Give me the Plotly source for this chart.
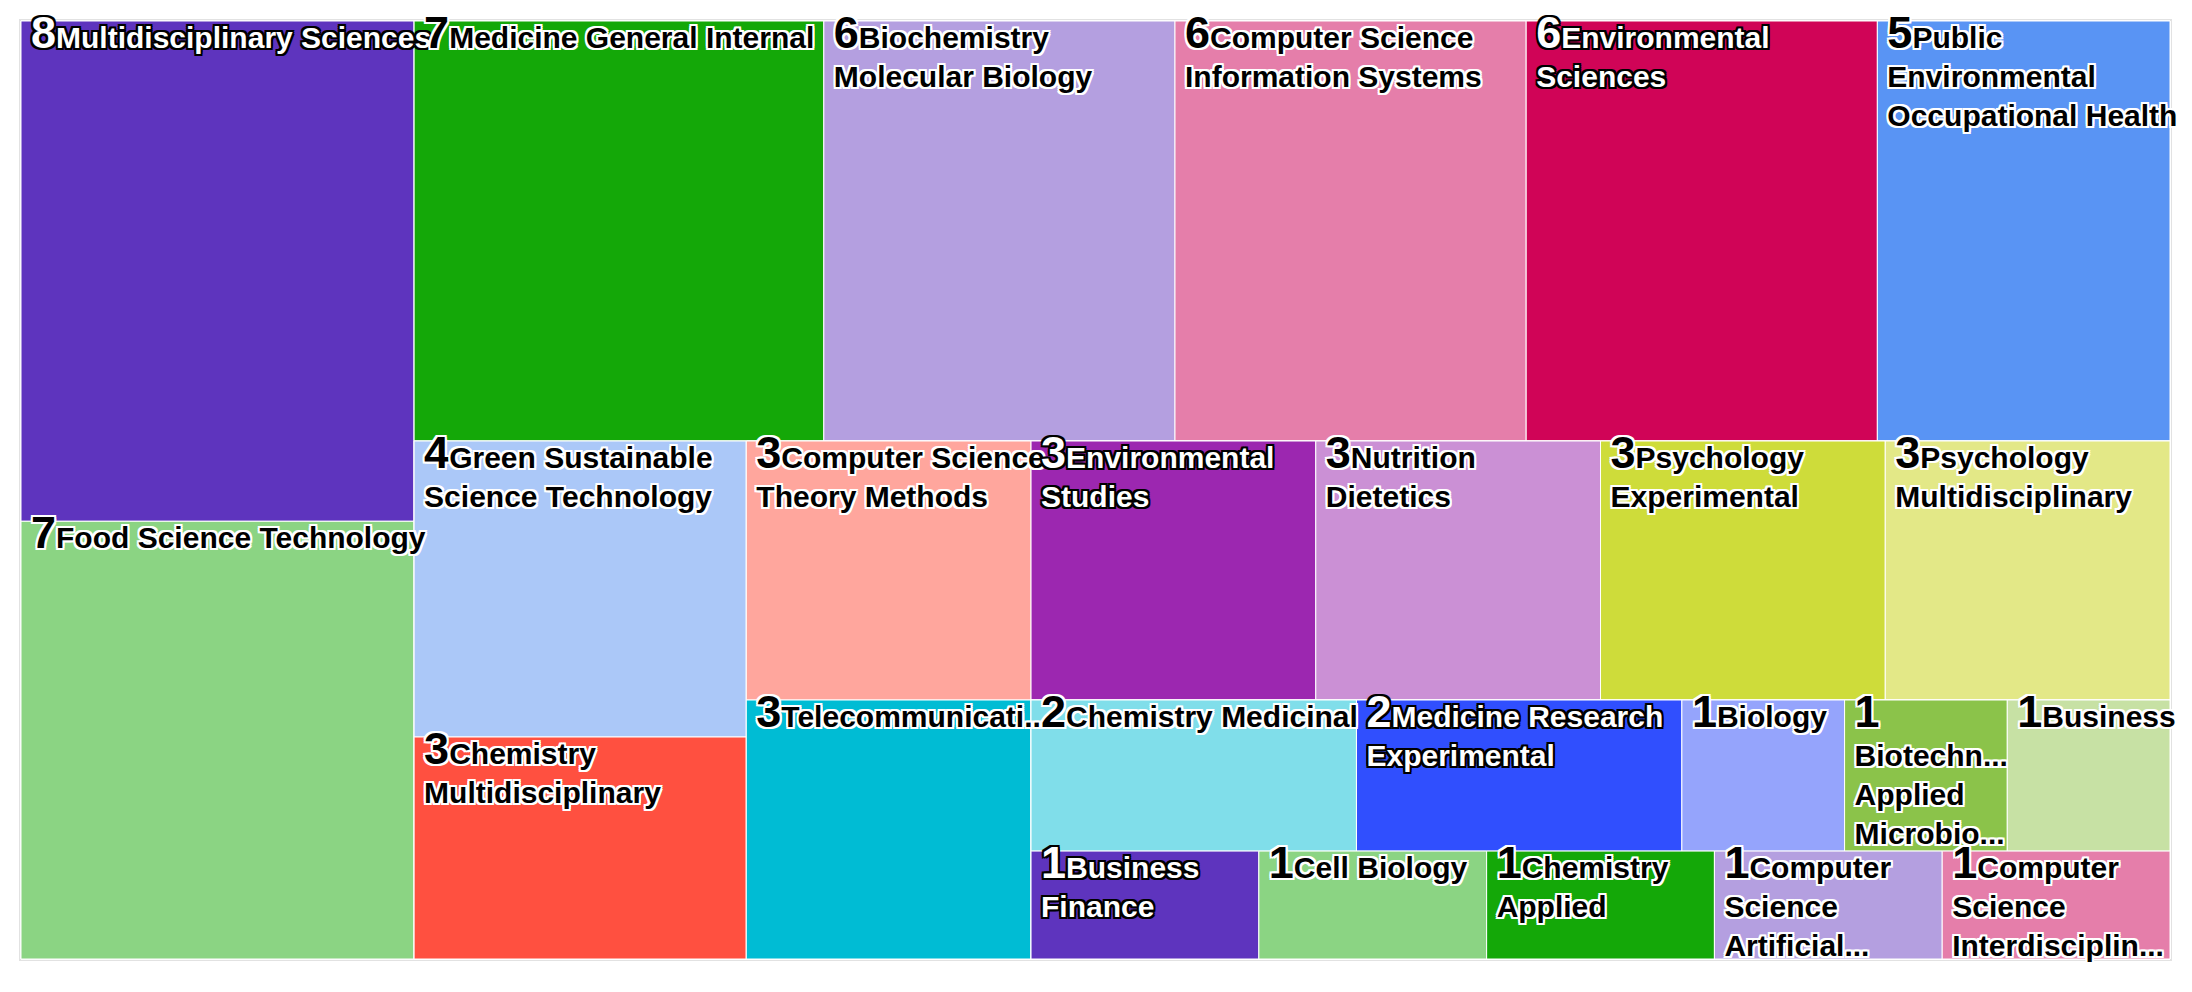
import plotly.graph_objects as go

# subject categories in tile order, with their paper counts
categories = [
    "Multidisciplinary Sciences",
    "Food Science Technology",
    "Medicine General Internal",
    "Biochemistry<br>Molecular Biology",
    "Computer Science<br>Information Systems",
    "Environmental<br>Sciences",
    "Public<br>Environmental<br>Occupational Health",
    "Green Sustainable<br>Science Technology",
    "Chemistry<br>Multidisciplinary",
    "Computer Science<br>Theory Methods",
    "Environmental<br>Studies",
    "Nutrition<br>Dietetics",
    "Psychology<br>Experimental",
    "Psychology<br>Multidisciplinary",
    "Telecommunicati...",
    "Chemistry Medicinal",
    "Medicine Research<br>Experimental",
    "Biology",
    "<br>Biotechn...<br>Applied<br>Microbio...",
    "Business",
    "Business<br>Finance",
    "Cell Biology",
    "Chemistry<br>Applied",
    "Computer<br>Science<br>Artificial...",
    "Computer<br>Science<br>Interdisciplin...",
]
counts = [8, 7, 7, 6, 6, 6, 5, 4, 3, 3, 3, 3, 3, 3, 3, 2, 2, 1, 1, 1, 1, 1, 1, 1, 1]

# squarified layout blocks, alternating horizontal / vertical splits (slice-dice)
blocks = ["all", "col1", "rest1", "row1", "rest2", "col2", "rest3", "row3", "rest4",
          "rest5", "row5a", "row5b"]
block_parents = ["", "all", "all", "rest1", "rest1", "rest2", "rest2", "rest3", "rest3",
                 "rest4", "rest5", "rest5"]
category_block = ["col1"] * 2 + ["row1"] * 5 + ["col2"] * 2 + ["row3"] * 5 + ["rest4"] \
    + ["row5a"] * 5 + ["row5b"] * 5

palette = [
    "#5E34BE", "#8BD483", "#14A808", "#B49FE0", "#E57EAA",
    "#D00457", "#5994F4", "#ABC8F8", "#FF5040", "#FFA69D",
    "#9C27B0", "#CB90D5", "#CEDC3A", "#E3E887", "#00BCD4",
    "#80DEEA", "#304FFE", "#95A4FC", "#8BC34A", "#C7E1A4",
]
colors = [palette[i % len(palette)] for i in range(len(categories))]


def luminance(hex_color):
    chans = [int(hex_color[k:k + 2], 16) / 255 for k in (1, 3, 5)]
    lin = [c / 12.92 if c <= 0.03928 else ((c + 0.055) / 1.055) ** 2.4 for c in chans]
    return 0.2126 * lin[0] + 0.7152 * lin[1] + 0.0722 * lin[2]


def outline(col, r=2):
    return ", ".join(f"{dx}px {dy}px 0 {col}" for dx in (-r, 0, r) for dy in (-r, 0, r)
                     if (dx, dy) != (0, 0))


# node list: blocks first, Telecom placed before rest5 inside rest4
ids, labels, parents, values, node_colors = [], [], [], [], []
tele = category_block.index("rest4")
for b, p in zip(blocks, block_parents):
    if b == "rest5":
        ids.append("leaf%d" % tele)
        labels.append(categories[tele])
        parents.append("rest4")
        values.append(counts[tele])
        node_colors.append(colors[tele])
    ids.append(b)
    labels.append(" ")
    parents.append(p)
    values.append(0)
    node_colors.append(None)
for i, (c, v, b) in enumerate(zip(categories, counts, category_block)):
    if i == tele:
        continue
    ids.append("leaf%d" % i)
    labels.append(c)
    parents.append(b)
    values.append(v)
    node_colors.append(colors[i])

leaf_tpl = "<b><span style='font-size:45px'>%{value}</span>%{label}</b>"
templates, txt_colors, txt_shadows = [], [], []
for col in node_colors:
    if col is None:
        templates.append("")
        txt_colors.append("white")
        txt_shadows.append("none")
    else:
        dark_text = luminance(col) > 0.179
        templates.append(leaf_tpl)
        txt_colors.append("black" if dark_text else "white")
        txt_shadows.append(outline("white" if dark_text else "black"))

# pixel geometry of the page: tile block, and the small offset of the labels
W, H = 2192, 992
tile_x0, tile_x1, tile_y0, tile_y1 = 21, 2170, 21, 959
shift_x, shift_y = 7, 17
plot_w = tile_x1 - tile_x0 + shift_x
plot_h = tile_y1 - tile_y0 + shift_y
main_dx = (tile_x1 - tile_x0) / plot_w
main_dy = (tile_y1 - tile_y0) / plot_h
m_l = tile_x0
m_r = W - m_l - plot_w
m_b = H - tile_y1
m_t = H - m_b - plot_h

common = dict(ids=ids, labels=labels, parents=parents, values=values, sort=False,
              tiling=dict(packing="slice-dice", pad=0), pathbar=dict(visible=False))

fig = go.Figure()
# coloured tiles
fig.add_trace(go.Treemap(
    **common,
    marker=dict(colors=[c or "white" for c in node_colors],
                line=dict(color="white", width=1), pad=dict(t=0, l=0, r=0, b=0)),
    textinfo="none",
    hoverinfo="skip",
    domain=dict(x=[0, main_dx], y=[0, main_dy]),
))
# labels, drawn on a transparent copy of the same layout
fig.add_trace(go.Treemap(
    **common,
    marker=dict(colors=["rgba(0,0,0,0)"] * len(ids), line=dict(width=0),
                pad=dict(t=0, l=0, r=0, b=0)),
    texttemplate=templates,
    textinfo="none",
    textposition="top left",
    textfont=dict(family="Liberation Sans, Arial", size=30, color=txt_colors,
                  shadow=txt_shadows),
    hoverinfo="label+value",
    domain=dict(x=[1 - main_dx, 1], y=[1 - main_dy, 1]),
))

fig.add_shape(type="rect", xref="paper", yref="paper", x0=0, x1=main_dx, y0=0, y1=main_dy,
              line=dict(color="#E2E2E2", width=4), layer="below")

fig.update_layout(
    width=W, height=H,
    margin=dict(l=m_l, r=m_r, t=m_t, b=m_b),
    uniformtext=dict(minsize=30, mode="show"),
    paper_bgcolor="white",
)

# the figure is sized to the whole window, so drop the page's default body margin
fig.write_html("out.html", config={"displayModeBar": False},
               post_script="document.body.style.margin = '0';")
